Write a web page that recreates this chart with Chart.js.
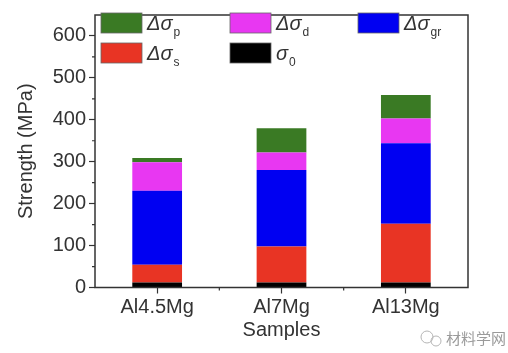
<!DOCTYPE html>
<html>
<head>
<meta charset="utf-8">
<script src="https://cdn.jsdelivr.net/npm/chart.js@4.4.1/dist/chart.umd.min.js"></script>
<style>
  html, body { margin: 0; padding: 0; background: #fff; }
  #wrap { width: 508px; height: 353px; }
</style>
</head>
<body>
<div id="wrap"><canvas id="strengthChart" width="508" height="353"></canvas></div>
<script>
// Samples and strengthening contributions (MPa)
const samples = ["Al4.5Mg", "Al7Mg", "Al13Mg"];
const sigma0 = [12, 12, 12];
const dSigmaS = [42, 86, 140];
const dSigmaGr = [177, 182, 192];
const dSigmaD = [68, 42, 59];
const dSigmaP = [10, 58, 56];
const yTicks = [0, 100, 200, 300, 400, 500, 600];

const FONT = "'Liberation Sans', Arial, Helvetica, sans-serif";
const INK = "#333";

// legend layout: order as in the picture (top-left to bottom-right)
const legendOrder = [4, 3, 2, 1, 0];
const legendSlots = [[101, 13], [230, 13], [358, 13], [101, 43], [230, 43]];

const frame = {
  id: "frame",
  afterDraw(chart) {
    const { ctx, chartArea: a, scales } = chart;
    ctx.save();
    ctx.strokeStyle = INK;
    ctx.lineWidth = 1.5;
    ctx.strokeRect(a.left, a.top, a.right - a.left, a.bottom - a.top);

    // minor ticks
    ctx.lineWidth = 1.2;
    ctx.beginPath();
    for (let v = 50; v < 650; v += 100) {
      const y = scales.y.getPixelForValue(v);
      ctx.moveTo(a.left, y);
      ctx.lineTo(a.left - 3, y);
    }
    for (let i = 0; i < samples.length - 1; i++) {
      const x = (scales.x.getPixelForValue(i) + scales.x.getPixelForValue(i + 1)) / 2;
      ctx.moveTo(x, a.bottom);
      ctx.lineTo(x, a.bottom + 3);
    }
    ctx.stroke();

    // legend
    legendOrder.forEach((di, k) => {
      const ds = chart.data.datasets[di];
      const [x, y] = legendSlots[k];
      ctx.fillStyle = ds.backgroundColor;
      ctx.fillRect(x, y, 41, 20);
      ctx.strokeStyle = "#666";
      ctx.lineWidth = 0.8;
      ctx.strokeRect(x, y, 41, 20);
      ctx.fillStyle = INK;
      ctx.textBaseline = "alphabetic";
      ctx.textAlign = "left";
      ctx.font = "italic 20px " + FONT;
      ctx.fillText(ds.symbol, x + 46, y + 17);
      const w = ctx.measureText(ds.symbol).width;
      ctx.font = "12px " + FONT;
      ctx.fillText(ds.sub, x + 47 + w, y + 23);
    });

    // watermark
    ctx.fillStyle = "#9a9a9a";
    ctx.font = "15px 'Noto Sans CJK SC', sans-serif";
    ctx.textBaseline = "middle";
    ctx.fillText("材料学网", 446, 338);
    ctx.strokeStyle = "#b5b5b5";
    ctx.lineWidth = 1;
    ctx.beginPath();
    ctx.arc(427, 337, 6, 0, Math.PI * 2);
    ctx.stroke();
    ctx.beginPath();
    ctx.arc(436, 341, 5, 0, Math.PI * 2);
    ctx.stroke();
    ctx.restore();
  }
};

const ctx = document.getElementById("strengthChart").getContext("2d");
new Chart(ctx, {
  type: "bar",
  data: {
    labels: samples,
    datasets: [
      { label: "σ0", symbol: "σ", sub: "0", data: sigma0, backgroundColor: "#000000" },
      { label: "Δσs", symbol: "Δσ", sub: "s", data: dSigmaS, backgroundColor: "#e83424" },
      { label: "Δσgr", symbol: "Δσ", sub: "gr", data: dSigmaGr, backgroundColor: "#0000f2" },
      { label: "Δσd", symbol: "Δσ", sub: "d", data: dSigmaD, backgroundColor: "#e837f2" },
      { label: "Δσp", symbol: "Δσ", sub: "p", data: dSigmaP, backgroundColor: "#3a7a24" }
    ]
  },
  options: {
    responsive: false,
    animation: false,
    layout: { padding: { top: 7.5, right: 40, left: 0, bottom: 0 } },
    datasets: { bar: { barPercentage: 0.8, categoryPercentage: 0.5, borderWidth: 0 } },
    plugins: { legend: { display: false }, tooltip: { enabled: false } },
    scales: {
      x: {
        stacked: true,
        offset: true,
        grid: { offset: false, drawOnChartArea: false, tickLength: 6, tickColor: INK, tickWidth: 1.2 },
        border: { display: false },
        ticks: { color: INK, font: { family: FONT, size: 20 }, padding: 2 },
        title: { display: true, text: "Samples", color: INK, font: { family: FONT, size: 20 }, padding: { top: 0, bottom: 11 } },
        afterFit(s) { s.height = 65.5; }
      },
      y: {
        stacked: true,
        min: 0,
        max: 650,
        grid: { drawOnChartArea: false, tickLength: 6, tickColor: INK, tickWidth: 1.2 },
        border: { display: false },
        ticks: { stepSize: 100, color: INK, font: { family: FONT, size: 20 }, padding: 3 },
        afterBuildTicks(s) { s.ticks = yTicks.map(v => ({ value: v })); },
        title: { display: true, text: "Strength (MPa)", color: INK, font: { family: FONT, size: 20 }, padding: { top: 14, bottom: 0 } },
        afterFit(s) { s.width = 95; }
      }
    }
  },
  plugins: [frame]
});
</script>
</body>
</html>
